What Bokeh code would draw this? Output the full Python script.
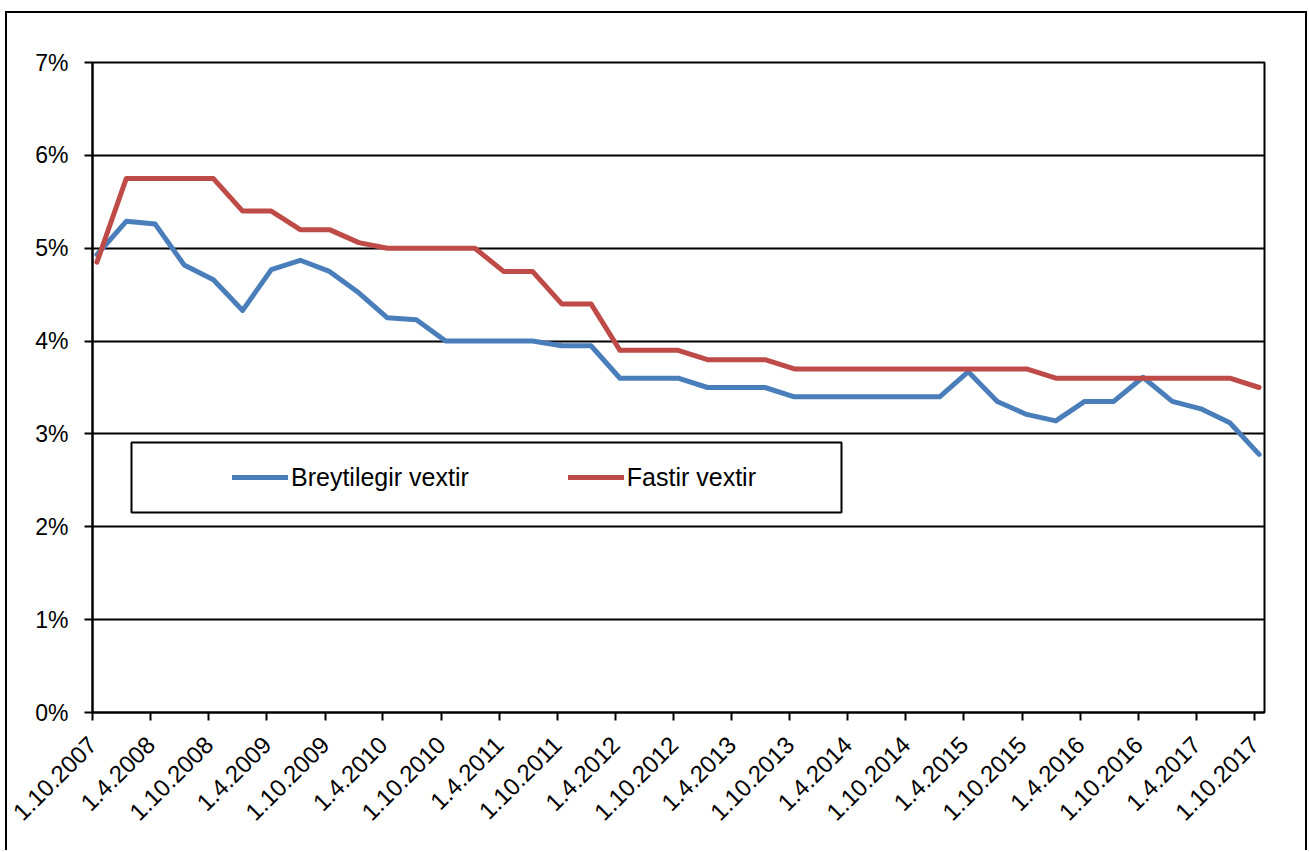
import pandas as pd
from math import pi
from bokeh.plotting import figure
from bokeh.models import (FixedTicker, PrintfTickFormatter, Legend, LegendItem,
                          BoxAnnotation, Range1d, ColumnDataSource)
from bokeh.embed import file_html
from bokeh.resources import INLINE

# ---------------- data ----------------
dates = [
    "2007-10-15", "2008-01-15", "2008-04-15", "2008-07-15", "2008-10-15",
    "2009-01-15", "2009-04-15", "2009-07-15", "2009-10-15",
    "2010-01-15", "2010-04-15", "2010-07-15", "2010-10-15",
    "2011-01-15", "2011-04-15", "2011-07-15", "2011-10-15",
    "2012-01-15", "2012-04-15", "2012-07-15", "2012-10-15",
    "2013-01-15", "2013-04-15", "2013-07-15", "2013-10-15",
    "2014-01-15", "2014-04-15", "2014-07-15", "2014-10-15",
    "2015-01-15", "2015-04-15", "2015-07-15", "2015-10-15",
    "2016-01-15", "2016-04-15", "2016-07-15", "2016-10-15",
    "2017-01-15", "2017-04-15", "2017-07-15", "2017-10-15",
]
breytilegir = [4.93, 5.29, 5.26, 4.82, 4.66, 4.33, 4.77, 4.87, 4.75, 4.52,
               4.25, 4.23, 4.00, 4.00, 4.00, 4.00, 3.95, 3.95, 3.60, 3.60,
               3.60, 3.50, 3.50, 3.50, 3.40, 3.40, 3.40, 3.40, 3.40, 3.40,
               3.67, 3.35, 3.21, 3.14, 3.35, 3.35, 3.61, 3.35, 3.27, 3.12,
               2.78]
fastir = [4.85, 5.75, 5.75, 5.75, 5.75, 5.40, 5.40, 5.20, 5.20, 5.06,
          5.00, 5.00, 5.00, 5.00, 4.75, 4.75, 4.40, 4.40, 3.90, 3.90,
          3.90, 3.80, 3.80, 3.80, 3.70, 3.70, 3.70, 3.70, 3.70, 3.70,
          3.70, 3.70, 3.70, 3.60, 3.60, 3.60, 3.60, 3.60, 3.60, 3.60,
          3.50]
tick_labels = ["1.10.2007", "1.4.2008", "1.10.2008", "1.4.2009", "1.10.2009",
               "1.4.2010", "1.10.2010", "1.4.2011", "1.10.2011", "1.4.2012",
               "1.10.2012", "1.4.2013", "1.10.2013", "1.4.2014", "1.10.2014",
               "1.4.2015", "1.10.2015", "1.4.2016", "1.10.2016", "1.4.2017",
               "1.10.2017"]
y_ticks = [0, 1, 2, 3, 4, 5, 6, 7]
series_names = ["Breytilegir vextir", "Fastir vextir"]
x_end_date = "2017-11-01"

# ---------------- helpers ----------------
epoch = pd.Timestamp("1970-01-01")


def day_no(s, fmt):
    return int((pd.to_datetime(s, format=fmt) - epoch).days)


x = [day_no(d, "%Y-%m-%d") for d in dates]
tick_x = [day_no(t, "%d.%m.%Y") for t in tick_labels]

src = ColumnDataSource(dict(x=x, b=breytilegir, f=fastir))

FONT = "Liberation Sans"
BLUE = "#4A7EBB"
RED = "#BE4B48"

p = figure(width=1302, height=839, output_backend="svg", toolbar_location=None,
           x_range=Range1d(tick_x[0], day_no(x_end_date, "%Y-%m-%d")),
           y_range=Range1d(y_ticks[0], y_ticks[-1]),
           min_border_left=85, min_border_right=45,
           min_border_top=49, min_border_bottom=140)
# outer chart frame (left, top, right edges; bottom lies below the window)
p.styles = {"border-left": "2px solid black", "border-top": "2px solid black",
            "border-right": "2px solid black", "overflow": "hidden",
            "position": "relative", "left": "5px", "top": "11px"}

p.background_fill_color = "white"
p.border_fill_color = "white"
p.outline_line_color = "black"
p.outline_line_width = 2

r1 = p.line("x", "b", source=src, line_color=BLUE, line_width=5,
            line_join="round", line_cap="round")
r2 = p.line("x", "f", source=src, line_color=RED, line_width=5,
            line_join="round", line_cap="round")

# axes
p.xaxis.ticker = FixedTicker(ticks=tick_x)
p.xaxis.major_label_overrides = {tx: lab for tx, lab in zip(tick_x, tick_labels)}
p.xaxis.major_label_orientation = pi / 4
p.yaxis.ticker = FixedTicker(ticks=y_ticks)
p.yaxis.formatter = PrintfTickFormatter(format="%d%%")
for ax in (p.xaxis, p.yaxis):
    ax.axis_line_color = "black"
    ax.axis_line_width = 2
    ax.major_tick_line_color = "black"
    ax.major_tick_line_width = 2
    ax.major_tick_out = 8
    ax.major_tick_in = 0
    ax.minor_tick_line_color = None
    ax.major_label_text_font = FONT
    ax.major_label_text_color = "black"
p.xaxis.major_label_text_font_size = "24px"
p.yaxis.major_label_text_font_size = "23px"
p.xaxis.major_label_standoff = 20
p.yaxis.major_label_standoff = 16

p.xgrid.visible = False
p.ygrid.grid_line_color = "black"
p.ygrid.grid_line_width = 2

# legend frame
box = BoxAnnotation(left=39, right=749, bottom=200, top=270,
                    left_units="screen", right_units="screen",
                    bottom_units="screen", top_units="screen",
                    fill_color="white", fill_alpha=1.0,
                    line_color="black", line_alpha=1.0, line_width=2)
p.add_layout(box)

legend = Legend(items=[LegendItem(label=series_names[0], renderers=[r1]),
                       LegendItem(label=series_names[1], renderers=[r2])],
                orientation="horizontal", location=(140, 220),
                padding=0, margin=0, spacing=99,
                glyph_width=56, glyph_height=30, label_height=30,
                label_width=176, label_standoff=3,
                label_text_font=FONT, label_text_font_size="25px",
                label_text_color="black",
                border_line_alpha=0, background_fill_alpha=0)
p.add_layout(legend, "center")

open("out.html", "w").write(file_html(p, INLINE))
